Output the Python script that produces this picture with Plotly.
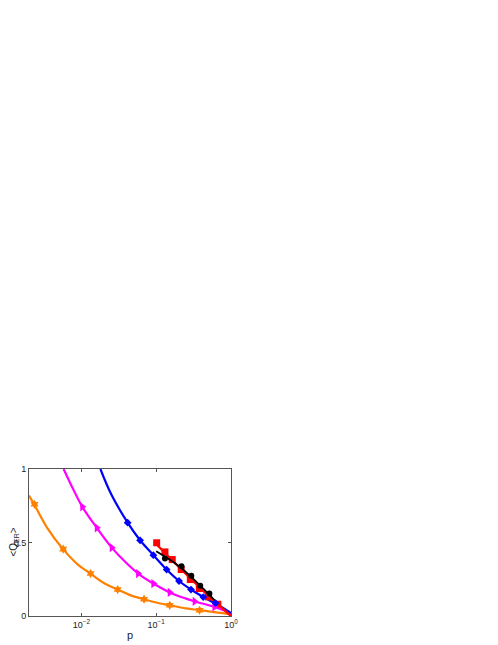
# <Q_ER> against p, log x axis, four fitted curves with simulation points plus two short straight fits

import plotly.graph_objects as go

# fitted curves
orange_line_p = [0.002, 0.0024, 0.0035, 0.0057, 0.009, 0.0133, 0.02, 0.0306, 0.045, 0.069, 0.1, 0.152, 0.25, 0.38, 0.6, 1.0]
orange_line_q = [0.82, 0.75, 0.60, 0.455, 0.35, 0.288, 0.225, 0.18, 0.142, 0.114, 0.092, 0.073, 0.052, 0.04, 0.026, 0.012]
magenta_line_p = [0.0058, 0.0075, 0.0103, 0.0161, 0.0255, 0.04, 0.0574, 0.0918, 0.152, 0.25, 0.327, 0.6, 1.0]
magenta_line_q = [1.0, 0.88, 0.743, 0.60, 0.465, 0.36, 0.289, 0.221, 0.160, 0.118, 0.099, 0.062, 0.02]
blue_line_p = [0.018, 0.025, 0.0416, 0.061, 0.0918, 0.138, 0.202, 0.292, 0.426, 0.623, 1.0]
blue_line_q = [1.0, 0.83, 0.635, 0.515, 0.414, 0.316, 0.238, 0.180, 0.129, 0.085, 0.02]
red_line_p = [0.1, 0.2, 0.4, 0.7, 1.0]
red_line_q = [0.49, 0.335, 0.185, 0.07, 0.0]
black_line_p = [0.1, 0.2, 0.4, 0.65]
black_line_q = [0.44, 0.34, 0.2, 0.09]

# simulation points
orange_p = [0.00237, 0.00573, 0.0133, 0.0306, 0.0689, 0.152, 0.38]
orange_q = [0.76, 0.455, 0.289, 0.18, 0.114, 0.073, 0.039]
magenta_p = [0.0103, 0.0161, 0.0255, 0.0574, 0.0918, 0.152, 0.327, 0.601]
magenta_q = [0.743, 0.600, 0.465, 0.289, 0.221, 0.160, 0.099, 0.062]
blue_p = [0.0416, 0.061, 0.0918, 0.138, 0.202, 0.292, 0.426, 0.623]
blue_q = [0.635, 0.515, 0.414, 0.316, 0.238, 0.180, 0.129, 0.087]
red_p = [0.1016, 0.131, 0.164, 0.216, 0.286, 0.377, 0.5, 0.667]
red_q = [0.498, 0.436, 0.384, 0.316, 0.248, 0.187, 0.13, 0.08]
black_p = [0.131, 0.218, 0.295, 0.388, 0.514]
black_q = [0.391, 0.339, 0.273, 0.205, 0.153]

x_tickvals = [0.01, 0.1, 1]
x_ticktext = ["10<sup>−2</sup>", "10<sup>−1</sup>", "10<sup>0</sup>"]
y_tickvals = [0, 0.5, 1]
y_ticktext = ["0", "0.5", "1"]

ORANGE = "#ff8000"
MAGENTA = "#ff00ff"
BLUE = "#0000ff"
RED = "#ff0000"
BLACK = "#000000"

fig = go.Figure()

for p, q, c in [
    (orange_line_p, orange_line_q, ORANGE),
    (magenta_line_p, magenta_line_q, MAGENTA),
    (blue_line_p, blue_line_q, BLUE),
]:
    fig.add_trace(go.Scatter(x=p, y=q, mode="lines", line=dict(color=c, width=2.2, shape="spline", smoothing=1.0)))

fig.add_trace(go.Scatter(x=red_p, y=red_q, mode="markers", marker=dict(symbol="square", size=7, color=RED)))
fig.add_trace(go.Scatter(x=red_line_p, y=red_line_q, mode="lines", line=dict(color=RED, width=2.4, shape="spline")))
fig.add_trace(go.Scatter(x=black_p, y=black_q, mode="markers", marker=dict(symbol="circle", size=6, color=BLACK)))
fig.add_trace(go.Scatter(x=black_line_p, y=black_line_q, mode="lines", line=dict(color=BLACK, width=1.8, shape="spline")))

fig.add_trace(go.Scatter(x=orange_p, y=orange_q, mode="markers", marker=dict(symbol="hexagram", size=7, color=ORANGE)))
fig.add_trace(go.Scatter(x=magenta_p, y=magenta_q, mode="markers", marker=dict(symbol="triangle-right", size=8, color=MAGENTA)))
fig.add_trace(go.Scatter(x=blue_p, y=blue_q, mode="markers", marker=dict(symbol="diamond", size=6, color=BLUE)))

# the page puts an 8px body margin round the figure, so the figure is 8px smaller
fig.update_layout(
    width=490,
    height=637,
    plot_bgcolor="white",
    paper_bgcolor="white",
    showlegend=False,
    font=dict(family="Liberation Sans, Arial", size=9, color="#222222"),
    margin=dict(l=20.5, r=267.3, t=461, b=29.3, autoexpand=False),
)

# y title as an annotation so it sits left of the tick labels
fig.add_annotation(
    text="&lt;Q<sub>ER</sub>&gt;",
    xref="paper",
    yref="paper",
    x=0,
    y=0.5,
    xanchor="center",
    yanchor="middle",
    xshift=-16,
    textangle=-90,
    showarrow=False,
    font=dict(size=10, color="#222222"),
)

fig.update_xaxes(
    type="log",
    range=[-2.699, 0],
    tickvals=x_tickvals,
    ticktext=x_ticktext,
    ticks="inside",
    ticklen=3,
    tickcolor="#555555",
    showline=True,
    linecolor="#555555",
    linewidth=1,
    mirror="ticks",
    showgrid=False,
    zeroline=False,
    title=dict(text="p", standoff=2, font=dict(size=11)),
)

fig.update_yaxes(
    range=[0, 1],
    tickvals=y_tickvals,
    ticktext=y_ticktext,
    ticks="inside",
    ticklen=3,
    tickcolor="#555555",
    showline=True,
    linecolor="#555555",
    linewidth=1,
    mirror="ticks",
    showgrid=False,
    zeroline=False,
)

fig.write_html("out.html")
